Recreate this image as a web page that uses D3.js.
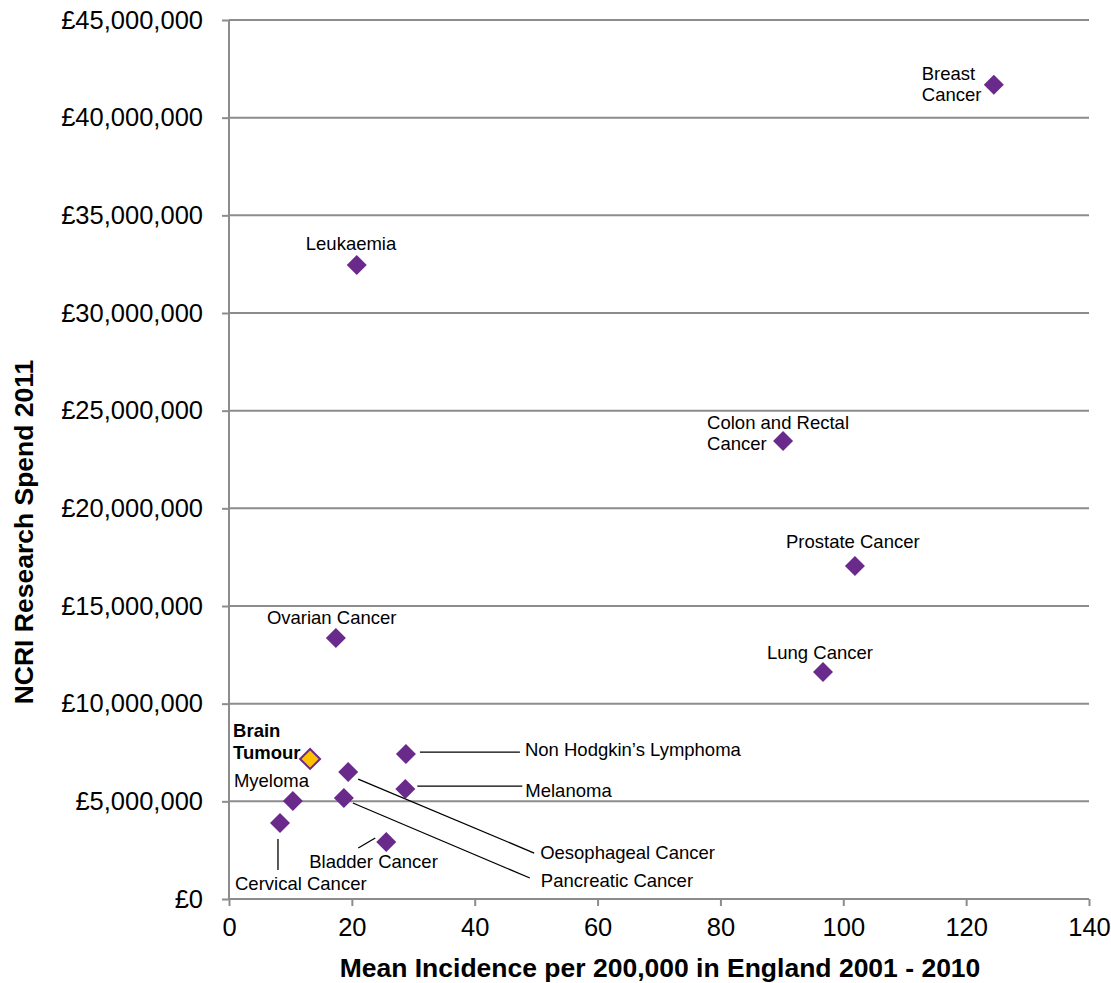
<!DOCTYPE html>
<html>
<head>
<meta charset="utf-8">
<title>NCRI research spend vs incidence</title>
<script src="https://cdn.jsdelivr.net/npm/d3@7/dist/d3.min.js"></script>
<style>
  body { margin: 0; background: #fff; }
  svg text { font-family: "Liberation Sans", Arial, sans-serif; fill: #000; }
</style>
</head>
<body>
<svg width="1111" height="983"></svg>
<script>
// data
const cancers = ["Breast Cancer", "Leukaemia", "Colon and Rectal Cancer", "Prostate Cancer",
  "Lung Cancer", "Ovarian Cancer", "Brain Tumour", "Non Hodgkin\u2019s Lymphoma",
  "Oesophageal Cancer", "Melanoma", "Myeloma", "Pancreatic Cancer", "Cervical Cancer", "Bladder Cancer"];
const incidence = [124.5, 20.8, 90.2, 101.9, 96.7, 17.4, 13.2, 28.8, 19.4, 28.7, 10.4, 18.7, 8.3, 25.6];
const spend = [41680000, 32460000, 23450000, 17050000, 11620000, 13360000, 7170000, 7420000,
  6500000, 5630000, 5020000, 5170000, 3890000, 2920000];
const xTicks = [0, 20, 40, 60, 80, 100, 120, 140];
const yTicks = [0, 5e6, 10e6, 15e6, 20e6, 25e6, 30e6, 35e6, 40e6, 45e6];

// label placement, pixel offsets from the marker: [lines, dx, dy per line, leader]
const labelLayout = {
  "Breast Cancer": { lines: ["Breast", "Cancer"], dx: -72, dy: [-12, 9] },
  "Leukaemia": { lines: ["Leukaemia"], dx: -51, dy: [-22] },
  "Colon and Rectal Cancer": { lines: ["Colon and Rectal", "Cancer"], dx: -76, dy: [-19, 2] },
  "Prostate Cancer": { lines: ["Prostate Cancer"], dx: -69, dy: [-25] },
  "Lung Cancer": { lines: ["Lung Cancer"], dx: -56, dy: [-20] },
  "Ovarian Cancer": { lines: ["Ovarian Cancer"], dx: -69, dy: [-21] },
  "Brain Tumour": { lines: ["Brain", "Tumour"], dx: -77, dy: [-29, -7], bold: true },
  "Non Hodgkin\u2019s Lymphoma": { lines: ["Non Hodgkin\u2019s Lymphoma"], dx: 119, dy: [-5], leader: [14, -2, 114, -2] },
  "Oesophageal Cancer": { lines: ["Oesophageal Cancer"], dx: 192, dy: [80], leader: [10, 7, 186, 81] },
  "Melanoma": { lines: ["Melanoma"], dx: 120, dy: [1], leader: [12, -3, 117, -3] },
  "Myeloma": { lines: ["Myeloma"], dx: -59, dy: [-21] },
  "Pancreatic Cancer": { lines: ["Pancreatic Cancer"], dx: 197, dy: [82], leader: [9, 5, 186, 80] },
  "Cervical Cancer": { lines: ["Cervical Cancer"], dx: -45, dy: [60], leader: [-2, 16, -2, 47] },
  "Bladder Cancer": { lines: ["Bladder Cancer"], dx: -77, dy: [19], leader: [-28, 6, -11, -4] }
};

const svg = d3.select("svg");
const x = d3.scaleLinear().domain([0, 140]).range([229, 1089]);
const y = d3.scaleLinear().domain([0, 45e6]).range([899, 20]);
const grid = "#8c8c8c";

// horizontal gridlines
svg.append("g").selectAll("line").data(yTicks.filter(d => d > 0)).enter().append("line")
  .attr("x1", x(0)).attr("x2", x(140))
  .attr("y1", d => y(d)).attr("y2", d => y(d))
  .attr("stroke", grid).attr("stroke-width", 2);

// y axis
const yAxis = svg.append("g").attr("transform", "translate(" + x(0) + ",0)")
  .call(d3.axisLeft(y).tickValues(yTicks).tickSize(7).tickPadding(19)
    .tickFormat(d => "\u00a3" + d3.format(",")(d)));
yAxis.select(".domain").attr("stroke", grid).attr("stroke-width", 2).attr("d", "M0," + y(0) + "V" + y(45e6));
yAxis.selectAll(".tick line").attr("stroke", grid).attr("stroke-width", 2);
yAxis.selectAll(".tick text").attr("font-size", 25.5).attr("font-family", "Liberation Sans, Arial, sans-serif").attr("fill", "#000");

// x axis
const xAxis = svg.append("g").attr("transform", "translate(0," + y(0) + ")")
  .call(d3.axisBottom(x).tickValues(xTicks).tickSize(7).tickPadding(12));
xAxis.select(".domain").attr("stroke", grid).attr("stroke-width", 2).attr("d", "M" + x(0) + ",0H" + x(140));
xAxis.selectAll(".tick line").attr("stroke", grid).attr("stroke-width", 2);
xAxis.selectAll(".tick text").attr("font-size", 25.5).attr("font-family", "Liberation Sans, Arial, sans-serif").attr("fill", "#000");

// axis titles
svg.append("text").attr("x", 660).attr("y", 968).attr("text-anchor", "middle")
  .attr("dominant-baseline", "central").attr("font-size", 26.5).attr("font-weight", "bold")
  .text("Mean Incidence per 200,000 in England 2001 - 2010");
svg.append("text").attr("transform", "translate(24,532) rotate(-90)").attr("text-anchor", "middle")
  .attr("dominant-baseline", "central").attr("font-size", 26.5).attr("font-weight", "bold")
  .text("NCRI Research Spend 2011");

const points = cancers.map((c, i) => ({ name: c, inc: incidence[i], spend: spend[i] }));

// leader lines
svg.append("g").selectAll("line").data(points.filter(d => labelLayout[d.name].leader)).enter().append("line")
  .attr("x1", d => x(d.inc) + labelLayout[d.name].leader[0])
  .attr("y1", d => y(d.spend) + labelLayout[d.name].leader[1])
  .attr("x2", d => x(d.inc) + labelLayout[d.name].leader[2])
  .attr("y2", d => y(d.spend) + labelLayout[d.name].leader[3])
  .attr("stroke", "#000").attr("stroke-width", 1.3);

// markers
const r = 10;
svg.append("g").selectAll("path").data(points).enter().append("path")
  .attr("transform", d => "translate(" + x(d.inc) + "," + y(d.spend) + ")")
  .attr("d", "M0," + -r + "L" + r + ",0L0," + r + "L" + -r + ",0Z")
  .attr("fill", d => d.name === "Brain Tumour" ? "#ffc000" : "#6a2a8c")
  .attr("stroke", d => d.name === "Brain Tumour" ? "#6a2a8c" : "none")
  .attr("stroke-width", 2);

// labels
const labels = svg.append("g").selectAll("text").data(points).enter().append("text")
  .attr("font-size", 18.5)
  .attr("font-weight", d => labelLayout[d.name].bold ? "bold" : "normal")
  .attr("dominant-baseline", "central");
labels.each(function(d) {
  const L = labelLayout[d.name];
  L.lines.forEach((t, k) => {
    d3.select(this).append("tspan")
      .attr("x", x(d.inc) + L.dx).attr("y", y(d.spend) + L.dy[k]).text(t);
  });
});
</script>
</body>
</html>
